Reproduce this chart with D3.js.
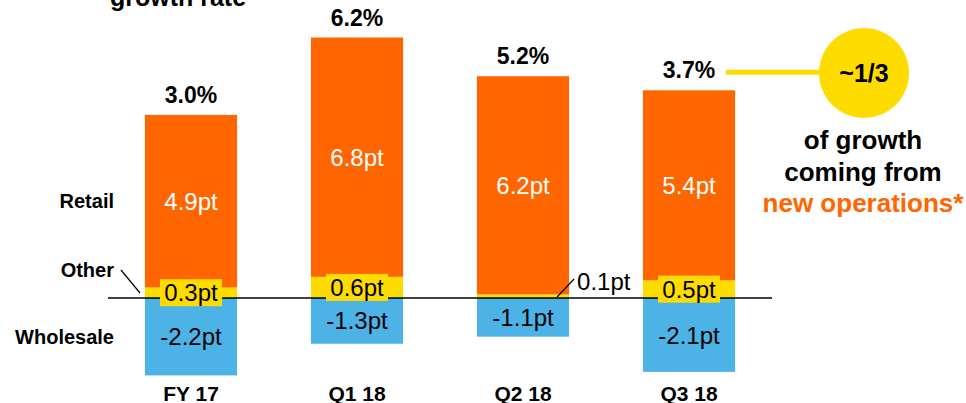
<!DOCTYPE html>
<html>
<head>
<meta charset="utf-8">
<script src="https://cdn.jsdelivr.net/npm/d3@7"></script>
<style>
  body { margin: 0; background: #fff; }
  svg { display: block; font-family: "Liberation Sans", Arial, sans-serif; }
</style>
</head>
<body>
<div id="chart"></div>
<script>
        // Data
        var categories = ["FY 17", "Q1 18", "Q2 18", "Q3 18"];
        var retail = [4.9, 6.8, 6.2, 5.4];
        var other = [0.3, 0.6, 0.1, 0.5];
        var wholesale = [-2.2, -1.3, -1.1, -2.1];
        var totals = ["3.0%", "6.2%", "5.2%", "3.7%"];

        var orange = "#FF6600", yellow = "#FFDC00", blue = "#4DB3E6";

        var width = 966, height = 403;

        var svg = d3.select("#chart")
            .append("svg")
            .attr("width", width)
            .attr("height", height);

        // X scale: bars centred at 191, 357, 523, 689
        var xScale = d3.scaleBand()
            .domain(categories)
            .range([108, 772])
            .paddingInner(0.445)
            .paddingOuter(0.2225);

        // Y scale: zero line at 298
        var yScale = d3.scaleLinear()
            .domain([-2.2, 7.4])
            .range([375.4, 37.5]);

        var rows = categories.map(function (c, i) {
            return { cat: c, retail: retail[i], other: other[i], wholesale: wholesale[i], total: totals[i] };
        });

        var bw = xScale.bandwidth();

        // Title fragment cut by the top edge
        svg.append("text")
            .attr("x", 178).attr("y", 6)
            .attr("text-anchor", "middle")
            .style("font-size", "25px").style("font-weight", "bold")
            .text("growth rate");

        // Wholesale (negative)
        svg.selectAll("rect.wholesale")
            .data(rows).enter().append("rect")
            .attr("class", "wholesale")
            .attr("x", function (d) { return xScale(d.cat); })
            .attr("y", yScale(0))
            .attr("width", bw)
            .attr("height", function (d) { return yScale(d.wholesale) - yScale(0); })
            .attr("fill", blue);

        // Other (sits on zero)
        svg.selectAll("rect.other")
            .data(rows).enter().append("rect")
            .attr("class", "other")
            .attr("x", function (d) { return xScale(d.cat); })
            .attr("y", function (d) { return yScale(d.other); })
            .attr("width", bw)
            .attr("height", function (d) { return yScale(0) - yScale(d.other); })
            .attr("fill", yellow);

        // Retail (stacked on other)
        svg.selectAll("rect.retail")
            .data(rows).enter().append("rect")
            .attr("class", "retail")
            .attr("x", function (d) { return xScale(d.cat); })
            .attr("y", function (d) { return yScale(d.other + d.retail); })
            .attr("width", bw)
            .attr("height", function (d) { return yScale(d.other) - yScale(d.other + d.retail); })
            .attr("fill", orange);

        // Zero line
        svg.append("line")
            .attr("x1", xScale.range()[0]).attr("x2", xScale.range()[1])
            .attr("y1", yScale(0)).attr("y2", yScale(0))
            .attr("stroke", "#000").attr("stroke-width", 1.5);

        function cx(d) { return xScale(d.cat) + bw / 2; }

        // Retail labels
        svg.selectAll("text.retail")
            .data(rows).enter().append("text")
            .attr("class", "retail")
            .attr("x", cx)
            .attr("y", function (d) { return (yScale(d.other) + yScale(d.other + d.retail)) / 2; })
            .attr("dy", "0.36em")
            .attr("text-anchor", "middle")
            .attr("fill", "#fff")
            .style("font-size", "24px")
            .text(function (d) { return d.retail.toFixed(1) + "pt"; });

        // Wholesale labels
        svg.selectAll("text.wholesale")
            .data(rows).enter().append("text")
            .attr("class", "wholesale")
            .attr("x", cx)
            .attr("y", function (d) { return (yScale(0) + yScale(d.wholesale)) / 2; })
            .attr("dy", "0.36em")
            .attr("text-anchor", "middle")
            .attr("fill", "#000")
            .style("font-size", "24px")
            .text(function (d) { return d.wholesale.toFixed(1) + "pt"; });

        // Other labels: boxed when the segment is big enough, else outside with a leader
        rows.forEach(function (d) {
            var label = d.other.toFixed(1) + "pt";
            var mid = (yScale(0) + yScale(d.other)) / 2;
            if (d.other >= 0.3) {
                svg.append("rect")
                    .attr("x", cx(d) - 31).attr("y", mid - 13.5)
                    .attr("width", 62).attr("height", 27)
                    .attr("fill", yellow);
                svg.append("text")
                    .attr("x", cx(d)).attr("y", mid)
                    .attr("dy", "0.36em")
                    .attr("text-anchor", "middle")
                    .style("font-size", "24px")
                    .text(label);
            } else {
                var x0 = xScale(d.cat) + bw - 12;
                svg.append("line")
                    .attr("x1", x0).attr("y1", yScale(0) - 1)
                    .attr("x2", x0 + 17).attr("y2", yScale(0) - 19)
                    .attr("stroke", "#000").attr("stroke-width", 1.2);
                svg.append("text")
                    .attr("x", x0 + 20).attr("y", yScale(0) - 17)
                    .attr("dy", "0.36em")
                    .style("font-size", "24px")
                    .text(label);
            }
        });

        // Totals above the bars
        svg.selectAll("text.total")
            .data(rows).enter().append("text")
            .attr("class", "total")
            .attr("x", cx)
            .attr("y", function (d) { return yScale(d.other + d.retail) - 12; })
            .attr("text-anchor", "middle")
            .style("font-size", "23px").style("font-weight", "bold")
            .text(function (d) { return d.total; });

        // Category labels
        svg.selectAll("text.cat")
            .data(rows).enter().append("text")
            .attr("class", "cat")
            .attr("x", cx)
            .attr("y", 401)
            .attr("text-anchor", "middle")
            .style("font-size", "21px").style("font-weight", "bold")
            .text(function (d) { return d.cat; });

        // Series labels on the left
        var first = rows[0];
        var leftLabels = [
            { name: "Retail", y: (yScale(first.other) + yScale(first.other + first.retail)) / 2 },
            { name: "Other", y: 270 },
            { name: "Wholesale", y: (yScale(0) + yScale(first.wholesale)) / 2 }
        ];
        svg.selectAll("text.series")
            .data(leftLabels).enter().append("text")
            .attr("class", "series")
            .attr("x", 114)
            .attr("y", function (d) { return d.y; })
            .attr("dy", "0.36em")
            .attr("text-anchor", "end")
            .style("font-size", "20px").style("font-weight", "bold")
            .text(function (d) { return d.name; });

        svg.append("line")
            .attr("x1", 121).attr("y1", 270)
            .attr("x2", 140).attr("y2", 293)
            .attr("stroke", "#000").attr("stroke-width", 1.2);

        // Callout: connector and circle
        var last = rows[rows.length - 1];
        var calloutY = yScale(last.other + last.retail) - 18;
        svg.append("line")
            .attr("x1", 726).attr("x2", 830)
            .attr("y1", calloutY).attr("y2", calloutY)
            .attr("stroke", yellow).attr("stroke-width", 5);
        svg.append("circle")
            .attr("cx", 864).attr("cy", 73).attr("r", 45)
            .attr("fill", yellow);
        svg.append("text")
            .attr("x", 864).attr("y", 73)
            .attr("dy", "0.36em")
            .attr("text-anchor", "middle")
            .style("font-size", "25px").style("font-weight", "bold")
            .text("~1/3");

        var notes = [
            { t: "of growth", c: "#000" },
            { t: "coming from", c: "#000" },
            { t: "new operations*", c: orange }
        ];
        svg.selectAll("text.note")
            .data(notes).enter().append("text")
            .attr("class", "note")
            .attr("x", 863)
            .attr("y", function (d, i) { return 140 + i * 31.5; })
            .attr("dy", "0.36em")
            .attr("text-anchor", "middle")
            .attr("fill", function (d) { return d.c; })
            .style("font-size", "26px").style("font-weight", "bold")
            .text(function (d) { return d.t; });
</script>
</body>
</html>
